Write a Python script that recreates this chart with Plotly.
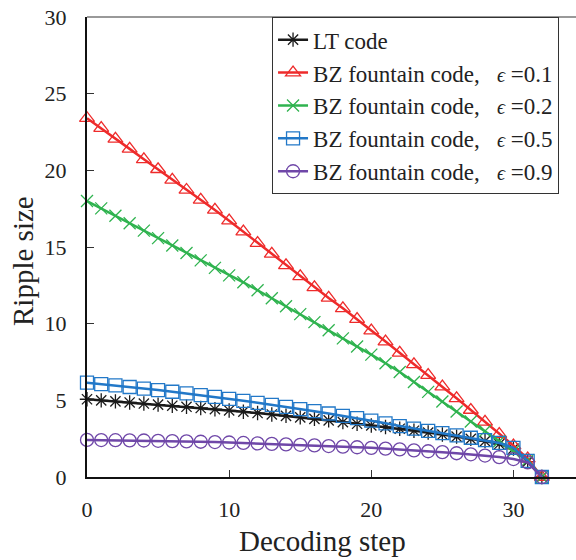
import plotly.graph_objects as go

steps = list(range(33))

lt_code = [5.07, 5.00, 4.93, 4.86, 4.79, 4.72, 4.65, 4.58, 4.50, 4.42, 4.34, 4.26,
           4.17, 4.08, 3.99, 3.89, 3.79, 3.69, 3.58, 3.47, 3.36, 3.26, 3.15, 3.02,
           2.90, 2.77, 2.63, 2.49, 2.34, 2.15, 1.85, 1.00, 0.0]
bz_01 = [23.4, 22.75, 22.05, 21.4, 20.72, 20.07, 19.38, 18.72, 18.07, 17.42, 16.72, 16.0,
         15.25, 14.55, 13.8, 13.08, 12.37, 11.68, 11.0, 10.3, 9.55, 8.83, 8.1, 7.35,
         6.65, 5.9, 5.13, 4.37, 3.6, 2.8, 2.05, 1.2, 0.0]
bz_02 = [18.0, 17.52, 17.04, 16.55, 16.07, 15.58, 15.1, 14.61, 14.13, 13.64, 13.15, 12.7,
         12.18, 11.66, 11.14, 10.62, 10.1, 9.57, 9.04, 8.51, 7.98, 7.42, 6.85, 6.2,
         5.55, 4.92, 4.27, 3.62, 3.0, 2.33, 1.68, 1.1, 0.0]
bz_05 = [6.15, 6.06, 5.97, 5.87, 5.77, 5.67, 5.56, 5.45, 5.34, 5.22, 5.10, 4.97,
         4.84, 4.71, 4.57, 4.43, 4.29, 4.14, 3.99, 3.84, 3.68, 3.5, 3.32, 3.16,
         3.01, 2.86, 2.72, 2.56, 2.40, 2.22, 1.90, 1.05, 0.0]
bz_09 = [2.42, 2.41, 2.40, 2.39, 2.38, 2.36, 2.34, 2.32, 2.30, 2.28, 2.25, 2.22,
         2.19, 2.16, 2.13, 2.10, 2.06, 2.02, 1.98, 1.94, 1.90, 1.85, 1.80, 1.74,
         1.68, 1.62, 1.55, 1.48, 1.40, 1.30, 1.17, 0.95, 0.0]

eps = "<i><span style='font-size:20px'>\u03f5</span></i>"
names = ["LT code",
         f"BZ fountain code,&nbsp;&nbsp;&nbsp;{eps}&nbsp;=0.1",
         f"BZ fountain code,&nbsp;&nbsp;&nbsp;{eps}&nbsp;=0.2",
         f"BZ fountain code,&nbsp;&nbsp;&nbsp;{eps}&nbsp;=0.5",
         f"BZ fountain code,&nbsp;&nbsp;&nbsp;{eps}&nbsp;=0.9"]
series = [lt_code, bz_01, bz_02, bz_05, bz_09]
colors = ["#1a1a1a", "#ee2b2b", "#2fb34f", "#2278c8", "#6f47a8"]
symbols = ["asterisk-open", "triangle-up-open", "x-thin-open", "square-open", "circle-open"]
sizes = [12, 13, 12, 13, 13]

fig = go.Figure()
for name, ys, c, s, sz in zip(names, series, colors, symbols, sizes):
    fig.add_trace(go.Scatter(
        x=steps, y=ys, name=name, mode="lines+markers",
        line=dict(color=c, width=2.5),
        marker=dict(symbol=s, size=sz, color=c, line=dict(color=c, width=1.3)),
        cliponaxis=False,
    ))

font = "Liberation Serif"
fig.update_layout(
    width=576, height=560,
    margin=dict(l=87, r=0, t=17, b=83),
    paper_bgcolor="white", plot_bgcolor="white",
    font=dict(family=font, size=22, color="#222"),
    showlegend=True,
    legend=dict(x=0.378, y=1.0, xanchor="left", yanchor="top",
                bordercolor="#333", borderwidth=1.2, bgcolor="white",
                font=dict(family=font, size=23, color="#222"),
                tracegroupgap=0, itemwidth=30),
    xaxis=dict(range=[0, 34.4], tickvals=[0, 10, 20, 30], showgrid=False, zeroline=False,
               showline=True, linecolor="#111", linewidth=2,
               ticks="inside", ticklen=7, tickwidth=1, tickcolor="#333",
               ticklabelstandoff=12, tickfont=dict(family=font, size=22, color="#222")),
    yaxis=dict(range=[0, 30], tickvals=[0, 5, 10, 15, 20, 25, 30], showgrid=False, zeroline=False,
               showline=True, linecolor="#111", linewidth=2,
               ticks="inside", ticklen=7, tickwidth=1, tickcolor="#333",
               ticklabelstandoff=14, tickfont=dict(family=font, size=22, color="#222")),
    annotations=[
        dict(text="Decoding step", xref="paper", yref="paper", x=0.4806, y=-0.139,
             xanchor="center", yanchor="middle", showarrow=False,
             font=dict(size=29, family=font, color="#222")),
        dict(text="Ripple size", xref="paper", yref="paper", x=-0.1309, y=0.4696,
             xanchor="center", yanchor="middle", showarrow=False, textangle=-90,
             font=dict(size=29, family=font, color="#222")),
    ],
)
fig.add_shape(type="line", xref="paper", yref="paper", x0=0, x1=1, y0=1, y1=1,
              line=dict(color="#777", width=1.5))

fig.write_html("out.html")
